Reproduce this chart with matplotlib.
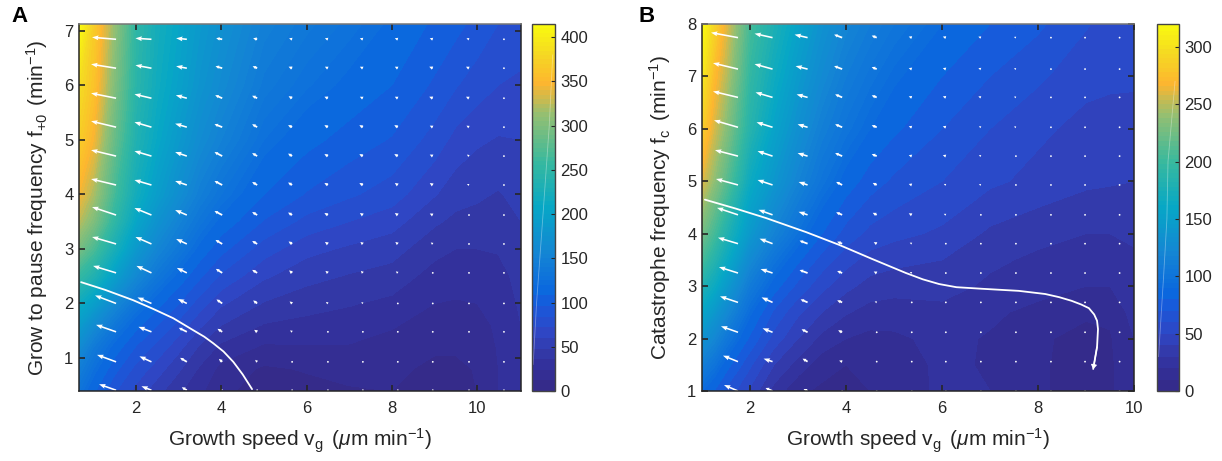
import numpy as np
import matplotlib
matplotlib.use("Agg")
import matplotlib.pyplot as plt
from matplotlib.colors import LinearSegmentedColormap

plt.rcParams['font.family'] = ['Liberation Sans', 'DejaVu Sans']
plt.rcParams['mathtext.fontset'] = 'custom'
plt.rcParams['mathtext.rm'] = 'Liberation Sans'
plt.rcParams['mathtext.it'] = 'Liberation Sans:italic'
plt.rcParams['mathtext.default'] = 'rm'

TEXT = "#262626"

# Panel A: surface
a_x = [0.66, 1, 1.5, 2, 2.5, 3, 3.5, 4, 5, 6, 7, 8, 9, 9.5, 10, 10.5, 11.03]
a_y = [0.39, 0.8, 1.2, 1.6, 2, 2.5, 3, 3.5, 4, 5, 6, 7.13]
a_z = [
    [130, 110, 85, 68, 52, 38, 26, 15, 6, 8, 11, 12, 6, 6, 12, 24, 34],
    [145, 125, 100, 80, 66, 50, 34, 20, 10, 13, 15, 15, 9, 9, 13, 24, 34],
    [165, 140, 115, 95, 80, 64, 46, 33, 22, 23, 23, 20, 14, 14, 16, 25, 34],
    [190, 165, 135, 112, 96, 80, 62, 48, 35, 32, 30, 25, 19, 19, 20, 26, 36],
    [215, 195, 160, 132, 112, 96, 78, 62, 47, 41, 37, 33, 24, 23, 24, 28, 38],
    [255, 235, 195, 160, 135, 116, 98, 82, 62, 52, 47, 43, 31, 29, 30, 32, 40],
    [295, 270, 225, 185, 156, 136, 116, 100, 78, 64, 58, 53, 40, 36, 36, 37, 44],
    [325, 300, 250, 205, 175, 152, 132, 116, 95, 80, 72, 65, 50, 45, 44, 42, 48],
    [345, 320, 265, 220, 192, 168, 146, 130, 108, 95, 86, 78, 61, 53, 50, 47, 52],
    [370, 345, 285, 235, 208, 186, 165, 150, 125, 112, 103, 95, 79, 68, 62, 59, 60],
    [385, 360, 300, 245, 217, 198, 178, 163, 138, 126, 117, 108, 94, 85, 78, 72, 70],
    [415, 370, 310, 250, 222, 205, 186, 172, 148, 137, 128, 118, 106, 100, 92, 84, 78],
]
a_levels = list(range(0, 120, 12)) + list(range(120, 415, 5)) + [415]

# Panel B: surface
b_x = [1, 1.25, 1.5, 2, 2.5, 3, 3.5, 4, 4.5, 5, 6, 7, 8, 9, 9.5, 10]
b_y = [1, 1.5, 2, 2.5, 3, 3.5, 4, 5, 6, 7, 8]
b_z = [
    [90, 80, 68, 48, 26, 12, 8, 8, 10, 14, 22, 20, 11, 7, 8, 19],
    [112, 100, 85, 62, 40, 26, 14, 10, 12, 15, 22, 19, 11, 7, 8, 19],
    [135, 122, 105, 78, 56, 40, 27, 20, 17, 18, 23, 19, 11, 8, 9, 20],
    [158, 142, 125, 92, 68, 52, 40, 31, 26, 25, 27, 22, 17, 11, 12, 24],
    [180, 165, 145, 108, 85, 67, 53, 43, 36, 34, 34, 28, 24, 20, 20, 26],
    [205, 185, 165, 125, 100, 82, 66, 54, 46, 43, 40, 32, 28, 25, 25, 28],
    [225, 205, 182, 142, 117, 97, 80, 66, 57, 53, 48, 38, 33, 30, 30, 32],
    [260, 238, 215, 165, 140, 118, 100, 86, 75, 68, 60, 52, 47, 42, 41, 40],
    [285, 258, 235, 185, 155, 132, 113, 100, 90, 82, 70, 60, 52, 47, 46, 45],
    [305, 272, 250, 195, 167, 144, 125, 110, 100, 92, 80, 70, 62, 53, 52, 52],
    [320, 290, 262, 205, 178, 155, 135, 120, 110, 102, 90, 80, 72, 61, 56, 55],
]
b_levels = list(range(0, 90, 10)) + list(range(90, 320, 4)) + [320]

# Arrow field A, one list per column, bottom row first
a_arrow_x = [1.53, 2.36, 3.19, 4.02, 4.84, 5.66, 6.5, 7.32, 8.14, 8.96, 9.81, 10.63]
a_arrow_y = [0.41, 0.93, 1.48, 2.0, 2.56, 3.09, 3.62, 4.17, 4.7, 5.23, 5.76, 6.31, 6.84]
a_u = [
    [-17, -19, -20, -21, -23, -24, -24, -25, -25, -25, -25, -25, -24],
    [-10, -12, -13, -14, -15, -16, -17, -17, -17, -17, -17, -16, -16],
    [-5, -6.7, -8, -9, -10, -10.7, -11.7, -11.7, -11.7, -11.7, -11, -10.7, -10.7],
    [-1.5, -3.3, -4.7, -5.7, -6.3, -6.7, -7.7, -7.7, -7.7, -7.7, -7, -6.7, -6],
    [-1, -2, -3, -4, -5, -5, -5, -5, -5, -5, -5, -4.5, -4],
    [-.5, -1, -2, -2.5, -3, -3.5, -4, -4, -4, -4, -3.5, -3.5, -3],
    [-.5, -1, -1.5, -2, -2.5, -3, -3.5, -3.5, -3.5, -3.5, -3.5, -3, -3],
    [-.3, -.5, -1, -1.5, -2, -2.5, -3, -3.5, -3.5, -3.5, -3, -3, -3],
    [-.3, -.5, -.7, -1, -2, -2.5, -3, -3, -3.5, -3.5, -3, -3, -3],
    [-.3, -.5, -.7, -1, -1.5, -2, -3, -3, -3, -3, -3.5, -3.5, -3],
    [0, -.3, -.5, -.7, -1, -1, -1.5, -2, -2, -2.5, -3, -3, -2.5],
    [0, -1, -1, -.7, -.5, -.5, -.7, -.7, -.7, -.7, -.7, -.7, -.7],
]
a_v = [
    [6, 7, 7, 8, 7, 7, 8, 6, 6, 6, 5, 4, 2],
    [4, 5.5, 5, 6, 7, 7, 7, 5, 5, 5, 4, 3, 1],
    [3, 4, 4, 4.5, 5, 5, 5, 4, 4, 3.5, 3, 2, 1],
    [1.5, 3, 3, 4, 4, 4, 4, 4, 4, 3, 3, 2, 1],
    [1, 2, 2, 3, 3, 3, 3, 3, 3, 3, 2.5, 2, 1],
    [.5, 1, 1.5, 2, 2.5, 2.5, 2.5, 2.5, 2.5, 2, 2, 1.5, 1],
    [.5, .5, 1, 1.5, 2, 2, 2, 2, 2, 2, 1.5, 1.5, 1],
    [.3, .5, 1, 1.5, 2, 2, 2, 2, 2, 2, 1.5, 1.5, 1],
    [.3, .5, .7, 1, 1.5, 2, 2, 2, 2, 2, 1.5, 1.5, 1],
    [.3, .5, .5, 1, 1, 1.5, 1.5, 2, 1.5, 1.5, 1.5, 1.5, 1],
    [0, .3, .3, .5, .5, 1, 1, 1, 1.5, 1.5, 1.5, 1.5, 1],
    [0, .3, .3, .3, .3, .3, .3, .3, .3, .3, .3, .3, .3],
]

# Arrow field B, same layout
b_arrow_x = [1.75, 2.47, 3.2, 3.92, 4.64, 5.37, 6.08, 6.81, 7.54, 8.27, 8.98, 9.7]
b_arrow_y = [1, 1.56, 2.12, 2.69, 3.25, 3.81, 4.36, 4.93, 5.48, 6.03, 6.6, 7.14, 7.74]
b_u = [
    [-14, -15, -17, -18, -19, -20, -21, -22, -23, -24, -25, -25, -27],
    [-7, -9, -10, -11, -12, -13, -14, -15, -15, -16, -17, -18, -18],
    [-4, -5, -6, -7, -8, -8, -9, -9, -10, -10, -11, -12, -13],
    [-1, -3, -4, -5, -5, -5, -6, -6, -7, -7, -7, -8, -8],
    [-.5, -.5, -1, -2, -3, -3, -4, -4, -5, -5, -5, -5, -5],
    [-.5, -.5, -1, -1, -2, -2, -3, -3, -3, -3, -3, -3, -3],
    [-.5, -.5, -.5, -1, -1, -1, -2, -2, -3, -3, -3, -3, -3],
    [-.3, -.5, -.5, -.7, -1, -1, -1.5, -2, -2, -2, -2.5, -2.5, -2.5],
    [-.3, -.5, -.5, -.5, -.7, -1, -1, -1.5, -1.5, -2, -2, -2, -2],
    [-.3, -.5, -.5, -.5, -.5, -.7, -1, -1, -1, -1.5, -1.5, -1.5, -1.5],
    [-.3, -.3, -.5, -.3, -.5, -.5, -.5, -.5, -.5, -.5, -.5, -.5, -.5],
    [-.3, -.3, -.3, -.3, -.3, -.3, -.3, -.3, -.3, -.3, -.3, -.3, -.3],
]
b_v = [
    [6, 6, 6, 6, 6, 6, 7, 6, 6, 7, 6, 6, 5],
    [3, 3, 4, 5, 4, 5, 5, 5, 5, 5, 5, 5, 4],
    [2, 3, 3, 3, 3, 3, 3, 3, 3, 3, 3, 3, 3],
    [1, 1, 2, 2, 2, 2, 2.5, 3, 3, 3, 3, 3, 3],
    [.5, .5, 1, 1, 1.5, 1.5, 2, 2, 2, 2, 2, 2, 2],
    [0, .5, .5, 1, 1, 1, 1.5, 1, 1, 1, 1, 1, 1],
    [0, .3, .5, .5, .5, 1, 1, 1, 1, 1, 1, 1, 1],
    [0, .3, .3, .5, .5, .5, .7, .7, 1, 1, 1, 1, 1],
    [0, .3, .3, .3, .5, .5, .5, .5, .7, .7, .7, .7, .7],
    [0, .3, .3, .3, .3, .5, .5, .5, .5, .5, .5, .5, .5],
    [.3, .3, .3, .3, .3, .3, .3, .3, .3, .3, .3, .3, .3],
    [0, .2, .2, .2, .2, .2, .2, .2, .2, .2, .2, .2, .2],
]

# White curves
a_curve_x = [0.71, 1.27, 1.93, 2.4, 2.87, 3.34, 3.6, 3.81, 4.05, 4.28, 4.5, 4.72]
a_curve_y = [2.39, 2.25, 2.06, 1.9, 1.73, 1.51, 1.39, 1.27, 1.12, 0.93, 0.7, 0.43]
b_curve_x = [1.06, 1.7, 2.33, 3.17, 3.85, 4.54, 5.25, 5.6, 5.94, 6.3, 6.83, 7.6, 8.15, 8.44, 8.7, 8.9,
             9.06, 9.17, 9.23, 9.25, 9.23, 9.15]
b_curve_y = [4.65, 4.48, 4.30, 4.03, 3.79, 3.52, 3.25, 3.13, 3.04, 2.98, 2.95, 2.91, 2.85, 2.79, 2.72, 2.65,
             2.58, 2.46, 2.34, 2.18, 1.84, 1.42]

# Faint streak inside each colorbar
a_streak_x = [0.05, 0.2, 0.48, 0.75, 0.9]
a_streak_y = [30, 100, 200, 300, 380]
b_streak_x = [0.07, 0.3, 0.45, 0.5, 0.82]
b_streak_y = [30, 100, 150, 200, 270]

parula = LinearSegmentedColormap.from_list("parula", [
    (0.0, "#352a87"), (0.06, "#332f98"), (0.104, "#3339a8"), (0.157, "#2f46c4"),
    (0.229, "#1a59da"), (0.26, "#0a65df"),
    (0.375, "#1485d4"), (0.5, "#06a7c6"), (0.625, "#38b99e"), (0.75, "#92bf73"),
    (0.84, "#fdb62f"), (0.92, "#f5d922"), (1.0, "#f9fb0e"),
])

W, H = 1222, 461


def px_axes(fig, left, right, top, bottom):
    return fig.add_axes([left / W, 1 - bottom / H, (right - left) / W, (bottom - top) / H])


def draw_panel(fig, box, cbox, x, y, z, levels, vmax, ax_x, ax_y, u, v, cx, cy, sx, sy,
               xlim, ylim, xticks, yticks, cticks, ylabel):
    ax = px_axes(fig, *box)
    cf = ax.contourf(x, y, z, levels=levels, cmap=parula, vmin=0, vmax=vmax)
    X, Y = np.meshgrid(ax_x, ax_y)
    U, V = np.array(u, dtype=float).T, np.array(v, dtype=float).T
    long_ones = np.hypot(U, V) >= 9
    # long arrows get a visible head, the short ones stay plain dashes
    ax.quiver(X[long_ones], Y[long_ones], U[long_ones], V[long_ones], color="white", angles="uv",
              units="dots", scale_units="dots", scale=1, width=1.6, headwidth=3,
              headlength=4, headaxislength=3.6, pivot="tail")
    ax.quiver(X[~long_ones], Y[~long_ones], U[~long_ones], V[~long_ones], color="white", angles="uv",
              units="dots", scale_units="dots", scale=1, width=1.8, headwidth=2,
              headlength=2, headaxislength=1.8, minshaft=1, minlength=1.1, pivot="tail")
    ax.plot(cx, cy, color="white", linewidth=1.3, solid_capstyle="round", solid_joinstyle="round")
    ax.set_xlim(*xlim)
    ax.set_ylim(*ylim)
    ax.set_xticks(xticks)
    ax.set_yticks(yticks)
    ax.tick_params(direction="in", top=True, right=True, length=4, width=1.2,
                   labelsize=12, colors=TEXT)
    ax.tick_params(axis="x", pad=7)
    ax.tick_params(axis="y", pad=4)
    ax.set_xlabel(r"Growth speed v$_{\mathrm{g}}$ $\,$($\mathit{\mu}$m min$^{-1}$)",
                  fontsize=15, color=TEXT)
    ax.set_ylabel(ylabel, fontsize=15, color=TEXT)
    ax.xaxis.set_label_coords(0.5, -0.098)
    ax.yaxis.set_label_coords(-29 / (box[1] - box[0]), 0.5)
    for s in ax.spines.values():
        s.set_color(TEXT)
        s.set_linewidth(1.1)
    ax.spines["top"].set_color("#777777")

    cax = px_axes(fig, *cbox)
    cb = fig.colorbar(cf, cax=cax, spacing="proportional", drawedges=False)
    cb.set_ticks(cticks)
    cb.minorticks_off()
    cax.tick_params(direction="in", length=3, width=0.8, labelsize=12, colors=TEXT, pad=4)
    cb.outline.set_edgecolor("#444444")
    cb.outline.set_linewidth(1.0)
    cax.plot(sx, sy, color="white", linewidth=0.6, alpha=0.35)
    cax.set_xlim(0, 1)
    cax.set_ylim(0, vmax)
    return ax


fig = plt.figure(figsize=(W / 100, H / 100), dpi=100)

ax_a = draw_panel(fig, (79, 521, 24, 391), (532, 555, 24, 391), a_x, a_y, a_z, a_levels, 415,
                  a_arrow_x, a_arrow_y, a_u, a_v, a_curve_x, a_curve_y,
                  a_streak_x, a_streak_y, (0.66, 11.03), (0.396, 7.12),
                  [2, 4, 6, 8, 10], [1, 2, 3, 4, 5, 6, 7],
                  [0, 50, 100, 150, 200, 250, 300, 350, 400],
                  r"Grow to pause frequency f$_{+0}$ $\,$(min$^{-1}$)")

ax_b = draw_panel(fig, (702, 1134, 24, 391), (1157, 1179, 24, 391), b_x, b_y, b_z, b_levels, 320,
                  b_arrow_x, b_arrow_y, b_u, b_v, b_curve_x, b_curve_y,
                  b_streak_x, b_streak_y, (1, 10), (1, 8),
                  [2, 4, 6, 8, 10], [1, 2, 3, 4, 5, 6, 7, 8],
                  [0, 50, 100, 150, 200, 250, 300],
                  r"Catastrophe frequency f$_{\mathrm{c}}$ $\,$(min$^{-1}$)")

# small head at the end of the B curve
ax_b.annotate("", xy=(b_curve_x[-1], b_curve_y[-1]), xytext=(b_curve_x[-2], b_curve_y[-2]),
              arrowprops=dict(arrowstyle="-|>,head_length=0.22,head_width=0.16", color="white",
                              lw=1.0, shrinkA=0, shrinkB=0))

fig.text(11 / W, 1 - 17 / H, "A", fontsize=16, fontweight="bold", color="black", va="center")
fig.text(638 / W, 1 - 17 / H, "B", fontsize=16, fontweight="bold", color="black", va="center")

fig.savefig("out.png", dpi=100)
